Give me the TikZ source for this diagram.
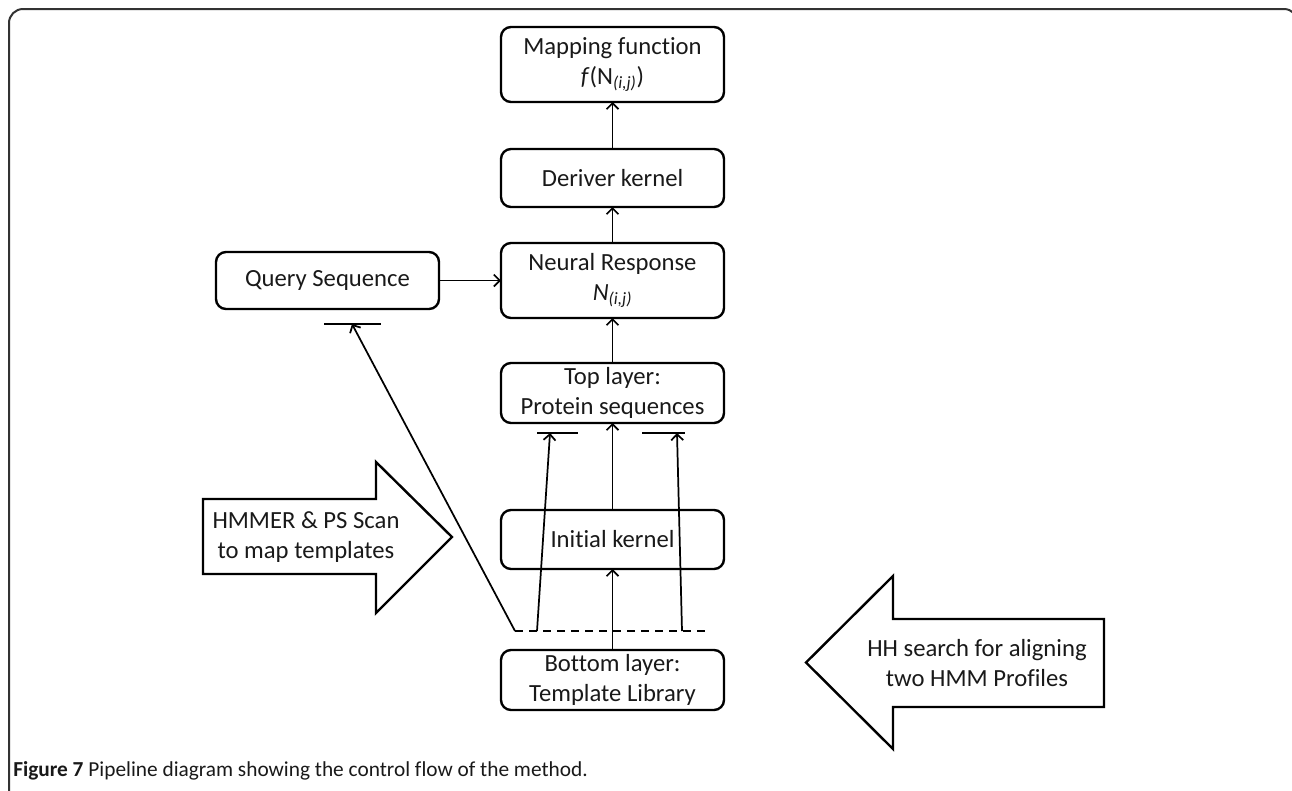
\documentclass[tikz,border=0pt]{standalone}
\usepackage{fontspec}
\setmainfont{Carlito}[Ligatures=NoCommon]
\usepackage{tikz}
\usetikzlibrary{arrows.meta,positioning}
\newcommand{\boxfont}{\fontsize{18.5pt}{22.5pt}\selectfont}
\tikzset{
    %Define standard arrow tip
    >={Straight Barb[length=4.5pt,width=9pt]},
    %Define style for boxes
    stage/.style={
           rectangle,
           rounded corners=7.5pt,
           draw=black, line width=1.8pt,
           minimum width=167.25pt,
           outer sep=0pt,
           font=\boxfont,
           align=center,
           text=black!90},
    blockarrow/.style={
           draw=black, line width=1.8pt,
           line join=miter},
    % Define arrow style
    pil/.style={
           ->,
           line width=1.3pt},
    bar/.style={
           line width=1.5pt}
}

\begin{document}
\begin{tikzpicture}[x=0.75pt,y=-0.75pt]
\useasboundingbox (0,0) rectangle (1292,790);
% frame
\draw[line width=1.5pt, black!80, rounded corners=10.5pt] (9,800) -- (9,9) -- (1298,9) -- (1298,800);
% pipeline
\node[stage, minimum height=56.25pt] (1) at (612.5,64.5) {Mapping function\\\textit{f}(N\textsubscript{\textit{(i,j)}})};
\node[stage, minimum height=43.5pt, below=35.25pt of 1] (2) {Deriver kernel};
\node[stage, minimum height=56.25pt, below=27pt of 2] (3) {Neural Response\\\textit{N}\textsubscript{\textit{(i,j)}}};
\node[stage, minimum height=42.75pt, left=46.5pt of 3] (4) {Query Sequence};
\node[stage, minimum height=43.5pt, below=33.75pt of 3] (5) {Top layer:\\Protein sequences};
\node[stage, minimum height=44.25pt, below=65.25pt of 5] (6) {Initial kernel};
\node[stage, minimum height=42.75pt, below=60.75pt of 6] (7) {Bottom layer:\\Template Library};
\path[pil]
	(7) edge (6)
	(6) edge (5)
	(5) edge (3)
	(3) edge (2)
	(2) edge (1)
	(4) edge (3);
% dashed line and bars
\coordinate (d1) at (515,631);
\coordinate (d2) at (707,631);
\coordinate (d3) at (537,631);
\coordinate (d4) at (682,631);
\draw[line width=1.3pt, dash pattern=on 6pt off 4.5pt] (d1) -- (d2);
\coordinate (b1) at (324,324);
\coordinate (b2) at (381,324);
\coordinate (b3) at (537,433);
\coordinate (b4) at (578,433);
\coordinate (b5) at (642,433);
\coordinate (b6) at (685,433);
\draw[bar] (b1) -- (b2);
\draw[bar] (b3) -- (b4);
\draw[bar] (b5) -- (b6);
\draw[pil] (d1) -- (352,324);
\draw[pil] (d3) -- (550,433);
\draw[pil] (d4) -- (677,433);
% block arrows
\draw[blockarrow] (203,499) -- (376,499) -- (376,462) -- (452,537) -- (376,613) -- (376,574) -- (203,574) -- cycle;
\node[font=\boxfont, align=center, text=black!90] (8) at (306,537) {HMMER \& PS Scan\\to map templates};
\draw[blockarrow] (1104,619) -- (893,619) -- (893,576) -- (806,662.5) -- (893,749) -- (893,707) -- (1104,707) -- cycle;
\node[font=\boxfont, align=center, text=black!90] (9) at (977,663) {HH search for aligning\\two HMM Profiles};
% caption
\node[anchor=west, font=\fontsize{16pt}{18pt}\selectfont, text=black!90, inner sep=0pt] (10) at (13,771) {\textbf{Figure 7} Pipeline diagram showing the control flow of the method.};
\end{tikzpicture}
\end{document}
